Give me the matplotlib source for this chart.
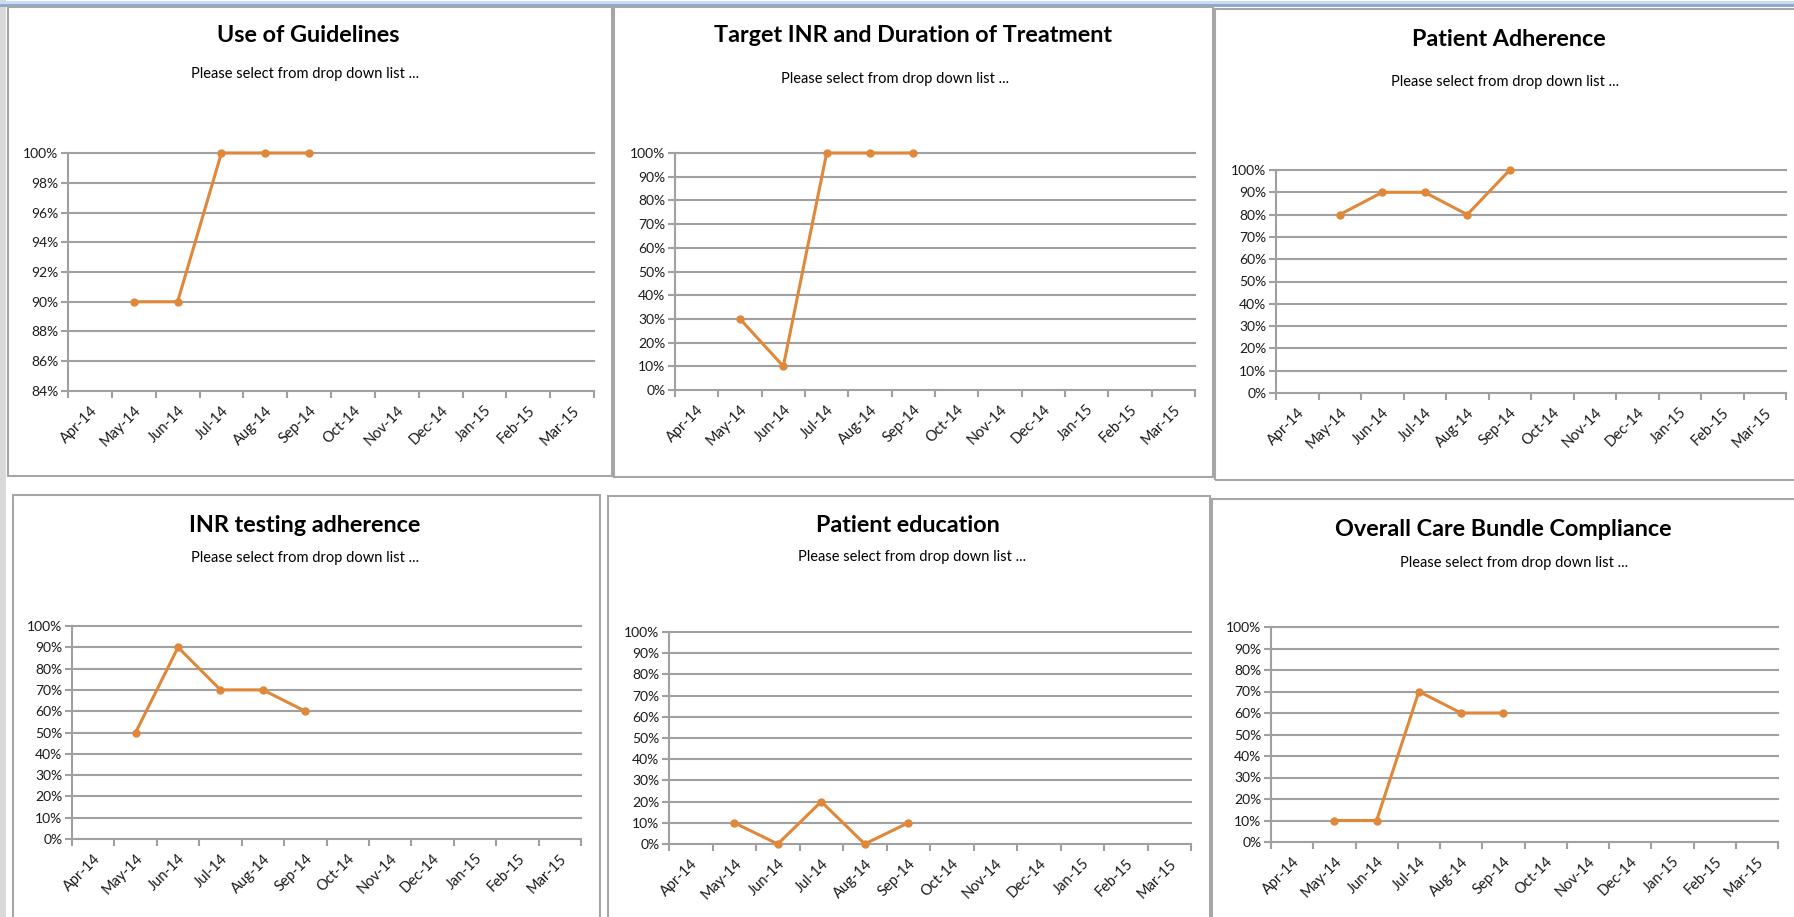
import numpy as np
import matplotlib
matplotlib.use("Agg")
from matplotlib import pyplot as plt
from matplotlib.patches import Rectangle

plt.rcParams['font.family'] = ['Lato', 'DejaVu Sans']

# 数据
months = ['Apr-14', 'May-14', 'Jun-14', 'Jul-14', 'Aug-14', 'Sep-14',
          'Oct-14', 'Nov-14', 'Dec-14', 'Jan-15', 'Feb-15', 'Mar-15']
titles = ['Use of Guidelines', 'Target INR and Duration of Treatment', 'Patient Adherence',
          'INR testing adherence', 'Patient education', 'Overall Care Bundle Compliance']
subtitle = 'Please select from drop down list ...'

use_of_guidelines = [np.nan, 0.90, 0.90, 1.00, 1.00, 1.00]
target_inr = [np.nan, 0.30, 0.10, 1.00, 1.00, 1.00]
patient_adherence = [np.nan, 0.80, 0.90, 0.90, 0.80, 1.00]
inr_testing = [np.nan, 0.50, 0.90, 0.70, 0.70, 0.60]
patient_education = [np.nan, 0.10, 0.00, 0.20, 0.00, 0.10]
overall_compliance = [np.nan, 0.10, 0.10, 0.70, 0.60, 0.60]
series = [use_of_guidelines, target_inr, patient_adherence,
          inr_testing, patient_education, overall_compliance]

W, H = 1794, 917
LINE = '#E0883A'
GRID = '#A0A0A0'

# 像素布局: 边框, 绘图区, 标题中心, 副标题中心
frames = [(8, 7, 612, 476), (614, 7, 1213, 477), (1215, 9, 1800, 480),
          (13, 495, 600, 925), (608, 496, 1210, 925), (1212, 499, 1800, 925)]
plots = [(68, 153, 594, 391), (675, 153, 1195, 390), (1276, 170, 1786, 393),
         (72, 626, 581, 839), (669, 632, 1191, 844), (1271, 627, 1778, 842)]
title_pos = [(308, 36), (913, 36), (1509, 39), (305, 526), (908, 526), (1503, 530)]
sub_pos = [(305, 74), (895, 79), (1505, 82), (305, 558), (912, 557), (1514, 563)]
ylims = [(0.84, 1.0, 0.02)] + [(0.0, 1.0, 0.1)] * 5

fig = plt.figure(figsize=(W / 100, H / 100), dpi=100)
fig.patch.set_facecolor('white')

# 窗口边缘
fig.add_artist(Rectangle((0, 0), 6 / W, 1, transform=fig.transFigure, color='#D9D9D9', lw=0))
fig.add_artist(Rectangle((0, 1 - 4 / H), 1, 3 / H, transform=fig.transFigure, color='#C9DCF2', lw=0))
fig.add_artist(Rectangle((0, 1 - 7 / H), 1, 3 / H, transform=fig.transFigure, color='#8EAAD0', lw=0))

for k in range(6):
    x0, y0, x1, y1 = frames[k]
    fig.add_artist(Rectangle((x0 / W, 1 - y1 / H), (x1 - x0) / W, (y1 - y0) / H,
                             transform=fig.transFigure, fill=False, edgecolor='#A6A6A6', lw=1.5))
    px0, py0, px1, py1 = plots[k]
    ax = fig.add_axes([px0 / W, 1 - py1 / H, (px1 - px0) / W, (py1 - py0) / H])
    lo, hi, step = ylims[k]
    yt = np.round(np.arange(lo, hi + step / 2, step), 2)
    ax.set_ylim(lo, hi)
    ax.set_yticks(yt)
    ax.set_yticklabels([f'{int(round(v * 100))}%' for v in yt], fontsize=10, color='#1a1a1a')
    ax.set_xlim(0, 12)
    ax.set_xticks(np.arange(13))
    ax.set_xticklabels([])
    ax.set_xticks(np.arange(12) + 0.5, minor=True)
    ax.set_xticklabels(months, minor=True, rotation=45, ha='right', rotation_mode='anchor',
                       fontsize=10.5, color='#1a1a1a')
    ax.tick_params(axis='x', which='minor', length=0, pad=9)
    ax.tick_params(axis='x', which='major', length=5, width=1.5, color=GRID)
    ax.tick_params(axis='y', length=5, width=1.5, color=GRID, pad=2)
    for yv in yt[1:]:
        ax.axhline(yv, color=GRID, lw=1.5, zorder=1, clip_on=False)
    for s in ['top', 'right']:
        ax.spines[s].set_visible(False)
    for s in ['left', 'bottom']:
        ax.spines[s].set_color(GRID)
        ax.spines[s].set_linewidth(1.5)
    xs = np.arange(len(series[k])) + 0.5
    ax.plot(xs, series[k], color=LINE, lw=2.2, marker='o', markersize=5, zorder=3, clip_on=False)
    ax.set_facecolor('none')

    tx, ty = title_pos[k]
    fig.text(tx / W, 1 - ty / H, titles[k], ha='center', va='center', fontsize=16.8,
             fontweight='bold', color='black')
    sx, sy = sub_pos[k]
    fig.text(sx / W, 1 - sy / H, subtitle, ha='center', va='center', fontsize=10.5, color='black')

fig.savefig('out.png', dpi=100)
